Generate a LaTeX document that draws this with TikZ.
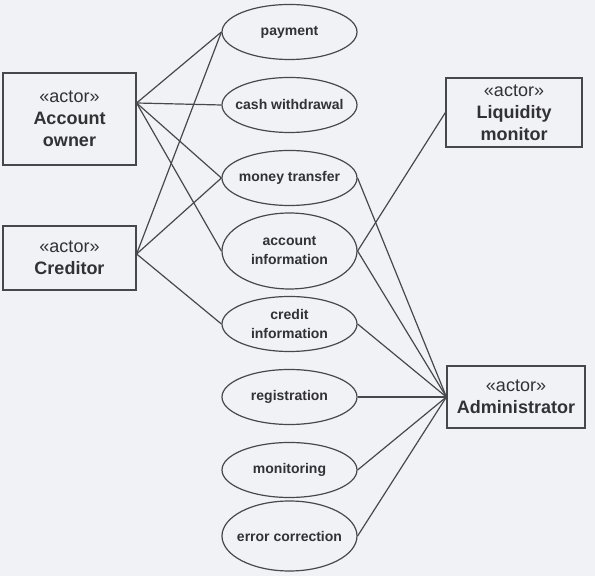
\documentclass[tikz,border=0pt]{standalone}
\usepackage{fontspec}
\setmainfont{Liberation Sans}
\usetikzlibrary{positioning, shapes.geometric}
\definecolor{paper}{RGB}{241,242,245}
\definecolor{ink}{RGB}{72,72,76}

\begin{document}
\begin{tikzpicture}[x=0.5pt,y=-0.5pt,node distance=36.5pt,on grid,
	usecase/.style={ellipse,draw=ink,line width=0.6pt,minimum width=67.5pt,minimum height=27.5pt,inner xsep=-12pt,inner ysep=0pt,align=center,text=ink!70!black,font=\fontsize{7}{9.5}\selectfont\bfseries},
	actor/.style={rectangle,draw=ink,line width=0.6pt,align=center,text=ink!70!black,font=\fontsize{9}{11}\selectfont}]
				\fill[paper] (0,0) rectangle (595,576);
				\useasboundingbox (0,0) rectangle (595,576);

				\node[usecase] (payment) at (289.5,32) {payment};
				\node[usecase] (cash) [below =of payment] {cash withdrawal};
				\node[usecase] (transfer) [below =of cash] {money transfer};
				\node[usecase,minimum height=38pt] (accinfo) [below =of transfer] {account\\information};
				\node[usecase] (creditinfo) [below =of accinfo] {credit\\information};
				\node[usecase] (registration) [below =of creditinfo] {registration};
				\node[usecase] (monitoring) [below =of registration] {monitoring};
				\node[usecase,minimum height=35pt] (errcorr) [below =33pt of monitoring] {error correction};

				\node[actor,minimum width=66.5pt,minimum height=46pt] (owner) at (69.5,119) {«actor»\\\textbf{Account}\\\textbf{owner}};
				\node[actor,minimum width=66.5pt,minimum height=32pt] (creditor) at (69.5,258) {«actor»\\\textbf{Creditor}};
				\node[actor,minimum width=68pt,minimum height=32.5pt] (liquidity) at (514,112.5) {«actor»\\\textbf{Liquidity}\\\textbf{monitor}};
				\node[actor,minimum width=69pt,minimum height=31pt] (admin) at (516,397) {«actor»\\\textbf{Administrator}};

				\tikzset{assoc/.style={draw=ink,line width=0.6pt}}
				\path ([yshift=8pt]owner.east) edge [assoc] (payment.west);
				\path ([yshift=8pt]owner.east) edge [assoc] (cash.west);
				\path ([yshift=8pt]owner.east) edge [assoc] (transfer.west);
				\path ([yshift=8pt]owner.east) edge [assoc] (accinfo.west);

				\path ([yshift=2pt]creditor.east) edge [assoc] (payment.west);
				\path ([yshift=2pt]creditor.east) edge [assoc] (transfer.west);
				\path ([yshift=2pt]creditor.east) edge [assoc] (creditinfo.west);

				\path (accinfo.east) edge [assoc] (liquidity.west);

				\path (transfer.east) edge [assoc] (admin.west);
				\path (accinfo.east) edge [assoc] (admin.west);
				\path (creditinfo.east) edge [assoc] (admin.west);
				\path (registration.east) edge [assoc] (admin.west);
				\path (monitoring.east) edge [assoc] (admin.west);
				\path (errcorr.east) edge [assoc] (admin.west);
			\end{tikzpicture}
\end{document}
